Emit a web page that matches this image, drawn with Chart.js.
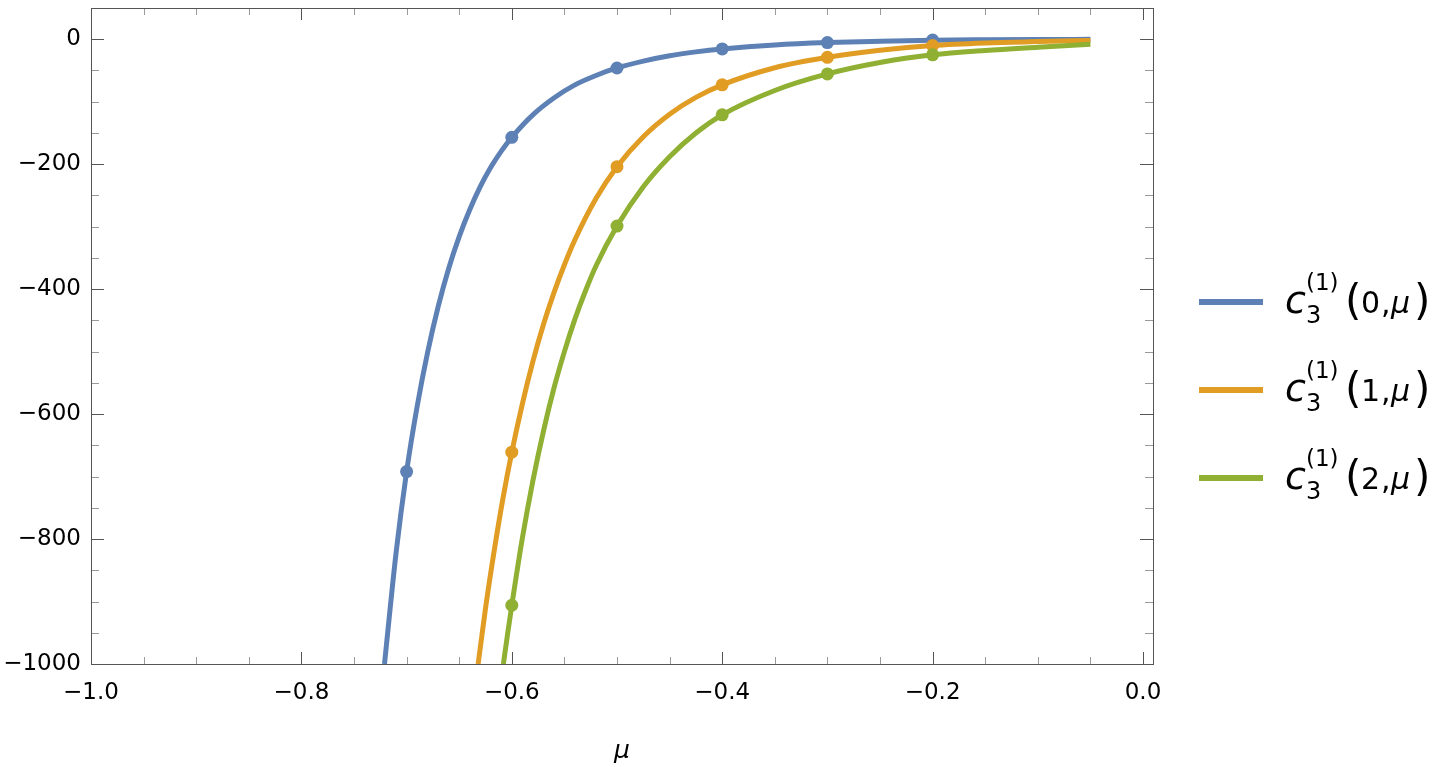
<!DOCTYPE html>
<html>
<head>
<meta charset="utf-8">
<script src="https://cdn.jsdelivr.net/npm/chart.js@4/dist/chart.umd.min.js"></script>
<style>
html,body{margin:0;padding:0;background:#ffffff;}
#wrap{position:relative;width:1449px;height:767px;}
</style>
</head>
<body>
<div id="wrap"><canvas id="c" width="1449" height="767"></canvas></div>
<script>
// ---- data ----
const seriesN = [0, 1, 2];
const seriesColors = ['#5E81B5', '#E19C24', '#8FB032'];

const muTicks = [-1.0, -0.8, -0.6, -0.4, -0.2, 0.0];
const cTicks = [-1000, -800, -600, -400, -200, 0];

// curve c3(1)(0, mu)
const curve0Mu = [-0.721, -0.71, -0.7, -0.69, -0.68, -0.67, -0.66, -0.65, -0.64, -0.63, -0.62, -0.61, -0.6, -0.58, -0.56, -0.54, -0.52, -0.5, -0.475, -0.45, -0.425, -0.4, -0.35, -0.3, -0.25, -0.2, -0.15, -0.1, -0.05];
const curve0C  = [-1000, -822, -692, -588, -501, -428, -367, -316, -273, -236, -205, -179, -157, -121, -94, -73, -58, -46, -35, -26.4, -20.2, -15.5, -9.1, -5.4, -3.2, -1.5, -0.8, -0.4, -0.2];
// curve c3(1)(1, mu)
const curve1Mu = [-0.632, -0.625, -0.616, -0.608, -0.6, -0.59, -0.58, -0.57, -0.56, -0.55, -0.54, -0.52, -0.5, -0.475, -0.45, -0.425, -0.4, -0.35, -0.3, -0.25, -0.2, -0.15, -0.1, -0.05];
const curve1C  = [-1000, -911, -811, -731, -661, -584, -516, -457, -406, -361, -321, -255, -204, -156, -120, -93, -73, -45.6, -29, -17.6, -10, -6, -3.8, -2];
// curve c3(1)(2, mu)
const curve2Mu = [-0.608, -0.604, -0.6, -0.59, -0.58, -0.57, -0.56, -0.55, -0.54, -0.53, -0.52, -0.5, -0.475, -0.45, -0.425, -0.4, -0.35, -0.3, -0.25, -0.2, -0.15, -0.1, -0.05];
const curve2C  = [-1000, -952, -906, -799, -707, -628, -559, -500, -448, -403, -363, -299, -236, -188, -150, -121, -82, -55.5, -37.2, -25, -18, -12.8, -8];

// sampled points (markers)
const dots0Mu = [-0.7, -0.6, -0.5, -0.4, -0.3, -0.2];
const dots0C  = [-692, -157, -46, -15.5, -5.4, -1.2];
const dots1Mu = [-0.6, -0.5, -0.4, -0.3, -0.2];
const dots1C  = [-661, -204, -73, -29, -10];
const dots2Mu = [-0.6, -0.5, -0.4, -0.3, -0.2];
const dots2C  = [-906, -299, -121, -55.5, -25];

// ---- helpers ----
const pts = (xs, ys) => xs.map((x, i) => ({x: x, y: ys[i]}));
const minus = s => s.replace('-', '\u2212');
const curves = [pts(curve0Mu, curve0C), pts(curve1Mu, curve1C), pts(curve2Mu, curve2C)];
const dots = [pts(dots0Mu, dots0C), pts(dots1Mu, dots1C), pts(dots2Mu, dots2C)];

const datasets = [];
seriesN.forEach((n, i) => {
  datasets.push({
    label: 'curve' + n,
    data: curves[i],
    borderColor: seriesColors[i],
    backgroundColor: seriesColors[i],
    borderWidth: 5,
    pointRadius: 0,
    cubicInterpolationMode: 'monotone',
    fill: false,
    order: 10 - i
  });
});
seriesN.forEach((n, i) => {
  datasets.push({
    label: 'dots' + n,
    data: dots[i],
    showLine: false,
    borderColor: seriesColors[i],
    pointBackgroundColor: seriesColors[i],
    pointBorderColor: seriesColors[i],
    pointBorderWidth: 0,
    pointRadius: 6.5,
    order: 5 - i
  });
});

const FONT = "'DejaVu Sans', 'Liberation Sans', sans-serif";

const frameTicks = {
  id: 'frameTicks',
  afterDatasetsDraw(chart) {
    const {ctx, chartArea: a, scales: {x, y}} = chart;
    ctx.save();
    ctx.lineWidth = 1;
    // minor ticks
    ctx.strokeStyle = '#9a9a9a';
    ctx.beginPath();
    for (let k = -20; k <= 0; k++) {
      const v = k * 0.05;
      if (k % 4 === 0) continue;
      const px = Math.round(x.getPixelForValue(v)) + 0.5;
      ctx.moveTo(px, a.bottom); ctx.lineTo(px, a.bottom - 7);
      ctx.moveTo(px, a.top); ctx.lineTo(px, a.top + 7);
    }
    for (let k = -20; k <= 0; k++) {
      const v = k * 50;
      if (k % 4 === 0) continue;
      const py = Math.round(y.getPixelForValue(v)) + 0.5;
      ctx.moveTo(a.left, py); ctx.lineTo(a.left + 8, py);
      ctx.moveTo(a.right, py); ctx.lineTo(a.right - 8, py);
    }
    ctx.stroke();
    // major ticks
    ctx.strokeStyle = '#555555';
    ctx.beginPath();
    muTicks.forEach(v => {
      const px = Math.round(x.getPixelForValue(v)) + 0.5;
      ctx.moveTo(px, a.bottom); ctx.lineTo(px, a.bottom - 12);
      ctx.moveTo(px, a.top); ctx.lineTo(px, a.top + 12);
    });
    cTicks.forEach(v => {
      const py = Math.round(y.getPixelForValue(v)) + 0.5;
      ctx.moveTo(a.left, py); ctx.lineTo(a.left + 13, py);
      ctx.moveTo(a.right, py); ctx.lineTo(a.right - 13, py);
    });
    ctx.stroke();
    // frame
    ctx.strokeStyle = '#555555';
    ctx.strokeRect(Math.round(a.left) + 0.5, Math.round(a.top) + 0.5,
                   Math.round(a.right - a.left), Math.round(a.bottom - a.top));
    ctx.restore();
  }
};

const mathLegend = {
  id: 'mathLegend',
  afterDraw(chart) {
    const {ctx} = chart;
    ctx.save();
    ctx.textBaseline = 'alphabetic';
    ctx.textAlign = 'left';
    seriesN.forEach((n, i) => {
      const ly = 302 + i * 88;
      ctx.strokeStyle = seriesColors[i];
      ctx.lineWidth = 6;
      ctx.beginPath();
      ctx.moveTo(1199, ly); ctx.lineTo(1263, ly);
      ctx.stroke();
      ctx.fillStyle = '#000';
      ctx.font = 'italic 38px ' + FONT;
      ctx.fillText('c', 1285, ly + 11);
      ctx.font = '24px ' + FONT;
      ctx.fillText('3', 1306, ly + 21);
      ctx.font = '23px ' + FONT;
      ctx.fillText('(1)', 1306, ly - 12);
      ctx.font = '42px ' + FONT;
      ctx.fillText('(', 1345, ly + 13);
      ctx.font = '30px ' + FONT;
      ctx.fillText(String(n), 1361, ly + 11);
      ctx.fillText(',', 1381, ly + 11);
      ctx.font = 'italic 30px ' + FONT;
      ctx.fillText('\u03bc', 1391, ly + 11);
      ctx.font = '42px ' + FONT;
      ctx.fillText(')', 1414, ly + 13);
    });
    ctx.restore();
  }
};

new Chart(document.getElementById('c'), {
  type: 'line',
  data: { datasets: datasets },
  options: {
    responsive: false,
    animation: false,
    devicePixelRatio: 1,
    layout: { padding: { top: 8, right: 296, left: 0, bottom: 0 } },
    plugins: { legend: { display: false }, tooltip: { enabled: false }, title: { display: false } },
    scales: {
      x: {
        type: 'linear',
        min: -1.0,
        max: 0.0095,
        grid: { display: false, drawTicks: false },
        border: { display: false },
        afterBuildTicks: s => { s.ticks = muTicks.map(v => ({value: v})); },
        afterFit: s => { s.height = 103; s.paddingLeft = 0; s.paddingRight = 0; },
        ticks: {
          autoSkip: false, maxRotation: 0, padding: 15,
          color: '#000', font: { family: FONT, size: 23 },
          callback: v => minus(Number(v).toFixed(1))
        },
        title: {
          display: true, text: '\u03bc', color: '#000',
          font: { family: FONT, size: 25, style: 'italic' },
          padding: { top: 0, bottom: 1 }
        }
      },
      y: {
        type: 'linear',
        min: -1000,
        max: 50,
        grid: { display: false, drawTicks: false },
        border: { display: false },
        afterBuildTicks: s => { s.ticks = cTicks.map(v => ({value: v})); },
        afterFit: s => { s.width = 91; s.paddingTop = 0; s.paddingBottom = 0; },
        ticks: {
          autoSkip: false, padding: 10,
          color: '#000', font: { family: FONT, size: 23 },
          callback: v => minus(String(v))
        }
      }
    }
  },
  plugins: [frameTicks, mathLegend]
});
</script>
</body>
</html>
